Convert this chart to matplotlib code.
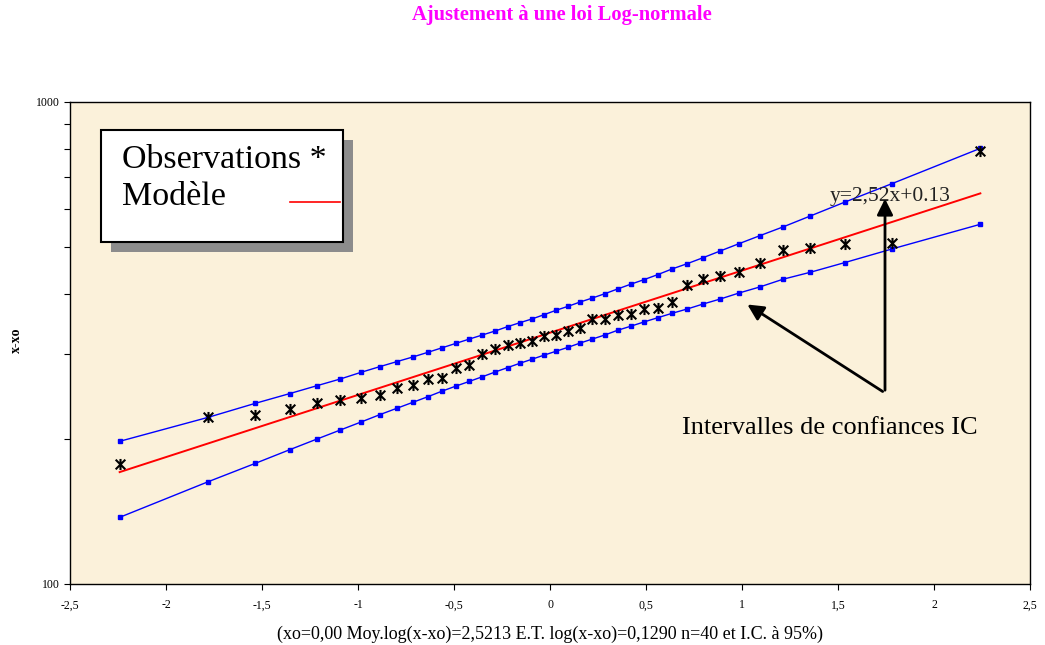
import matplotlib
matplotlib.use("Agg")
import matplotlib.pyplot as plt
from matplotlib.patches import Rectangle, FancyArrowPatch
from matplotlib.path import Path
from matplotlib.ticker import FixedLocator, FixedFormatter, NullFormatter
import numpy as np

plt.rcParams['font.family'] = ['Liberation Serif', 'DejaVu Serif']

# Normal quantiles of the Hazen plotting positions (i - 0.5) / 40
z_half = [-2.2414, -1.7805, -1.5341, -1.3563, -1.2133, -1.0918, -0.9842, -0.8871,
          -0.7978, -0.7144, -0.6356, -0.5607, -0.4888, -0.4193, -0.3518, -0.2858,
          -0.2212, -0.1573, -0.0941, -0.0313]
z_scores = z_half + [-v for v in reversed(z_half)]

# Sorted observations (x - xo)
observations = [177.4, 221.7, 224.2, 230.4, 237.8, 240.9, 243.2, 247.1, 254.7, 258.4,
                265.9, 267.6, 281.1, 284.3, 300.1, 307.8, 313.3, 316.2, 319.2, 327.4,
                329.0, 335.4, 340.2, 354.2, 354.7, 362.0, 363.2, 372.0, 373.8, 385.3,
                417.2, 430.0, 436.2, 444.6, 463.1, 493.1, 497.9, 507.5, 510.0, 792.5]

# 95 % confidence bounds
ci_upper = [197.7, 221.7, 237.1, 248.3, 257.9, 266.3, 274.9, 282.4, 289.3, 295.8,
            302.5, 309.2, 315.8, 322.3, 328.6, 334.9, 341.9, 348.4, 354.7, 362.0,
            369.7, 376.8, 384.7, 392.1, 400.2, 409.3, 418.6, 427.9, 438.3, 450.4,
            461.9, 475.4, 490.9, 508.2, 527.8, 550.5, 580.2, 619.6, 676.9, 801.5]
ci_lower = [137.5, 163.0, 178.0, 189.9, 199.9, 208.7, 216.8, 224.5, 231.5, 238.2,
            244.7, 251.4, 257.5, 263.3, 269.2, 275.3, 281.1, 287.0, 292.6, 298.4,
            304.0, 309.8, 316.2, 322.3, 328.6, 336.0, 342.5, 349.6, 356.8, 364.4,
            372.0, 381.0, 390.2, 401.5, 413.2, 428.8, 443.4, 464.2, 495.5, 557.6]

# Fitted log-normal parameters
mean_log = 2.5213
sd_log = 0.1290
n_obs = 40

x_ticks = [-2.5, -2, -1.5, -1, -0.5, 0, 0.5, 1, 1.5, 2, 2.5]
x_tick_labels = ["-2,5", "-2", "-1,5", "-1", "-0,5", "0", "0,5", "1", "1,5", "2", "2,5"]
y_major = [100, 1000]
y_major_labels = ["100", "1000"]
y_minor = [200, 300, 400, 500, 600, 700, 800, 900]

z = np.array(z_scores)
model = 10 ** (mean_log + sd_log * z)

# Star marker: an X crossed by a vertical bar
star = Path([(-1, -1), (1, 1), (-1, 1), (1, -1), (0, -1.15), (0, 1.15)],
            [Path.MOVETO, Path.LINETO, Path.MOVETO, Path.LINETO, Path.MOVETO, Path.LINETO])

W, H = 1045, 645
fig = plt.figure(figsize=(W / 100, H / 100), dpi=100)
fig.patch.set_facecolor('white')

def fx(px):
    return px / W

def fy(py):
    return 1 - py / H

ax = fig.add_axes([fx(70), fy(584), (1030 - 70) / W, (584 - 102) / H])
ax.set_facecolor('#FBF1DA')
ax.set_yscale('log')
ax.set_xlim(-2.5, 2.5)
ax.set_ylim(100, 1000)

ax.plot(z, ci_upper, color='#0000FF', lw=1.0, marker='s', ms=3.2, mec='#0000FF', zorder=3)
ax.plot(z, ci_lower, color='#0000FF', lw=1.0, marker='s', ms=3.2, mec='#0000FF', zorder=3)
ax.plot(z, model, color='#FF0000', lw=1.4, zorder=4)
ax.plot(z, observations, ls='none', marker=star, ms=8, mew=1.5, color='black', zorder=5)

for s in ax.spines.values():
    s.set_color('black')
    s.set_linewidth(1.0)

ax.xaxis.set_major_locator(FixedLocator(x_ticks))
ax.xaxis.set_major_formatter(FixedFormatter(x_tick_labels))
ax.yaxis.set_major_locator(FixedLocator(y_major))
ax.yaxis.set_major_formatter(FixedFormatter(y_major_labels))
ax.yaxis.set_minor_locator(FixedLocator(y_minor))
ax.yaxis.set_minor_formatter(NullFormatter())
ax.tick_params(axis='both', which='both', direction='out', length=4, width=0.8,
               labelsize=8.5, colors='black')
ax.tick_params(axis='y', which='both', pad=3)
ax.tick_params(axis='x', pad=7)

fig.text(fx(550), fy(634), "(xo=0,00 Moy.log(x-xo)=2,5213 E.T. log(x-xo)=0,1290 n=40 et I.C. à 95%)",
         fontsize=13, ha='center', va='center')
fig.text(fx(16), fy(340), "x-xo", fontsize=10, fontweight='bold', rotation=90,
         ha='center', va='center')

fig.text(fx(562), fy(15), "Ajustement à une loi Log-normale", color='#FF00FF',
         fontsize=14.8, fontweight='bold', ha='center', va='center')

# Legend box with shadow
shadow = Rectangle((fx(111), fy(252)), fx(353 - 111), (252 - 140) / H,
                   transform=fig.transFigure, facecolor='#8C8C8C', edgecolor='none', zorder=6)
box = Rectangle((fx(101), fy(242)), fx(343 - 101), (242 - 130) / H,
                transform=fig.transFigure, facecolor='white', edgecolor='black', lw=1.5, zorder=7)
fig.add_artist(shadow)
fig.add_artist(box)
fig.text(fx(122), fy(160), "Observations *", fontsize=24.5, ha='left', va='center', zorder=8)
fig.text(fx(122), fy(197), "Modèle", fontsize=24.5, ha='left', va='center', zorder=8)
fig.add_artist(plt.Line2D([fx(290), fx(340)], [fy(202), fy(202)], transform=fig.transFigure,
                          color='#FF0000', lw=1.2, zorder=8))

# Equation and confidence-interval annotations
fig.text(fx(890), fy(196), "y=2,52x+0.13", fontsize=15.5, color='#222222',
         ha='center', va='center', zorder=8)
fig.text(fx(830), fy(428), "Intervalles de confiances IC", fontsize=19,
         ha='center', va='center', zorder=8)
for start, end in [((885, 393), (885, 196)), ((885, 393), (745, 303))]:
    arr = FancyArrowPatch((fx(start[0]), fy(start[1])), (fx(end[0]), fy(end[1])),
                          transform=fig.transFigure, arrowstyle='-|>', mutation_scale=24,
                          color='black', lw=2.0, zorder=9)
    fig.add_artist(arr)

fig.savefig('out.png', dpi=100)
